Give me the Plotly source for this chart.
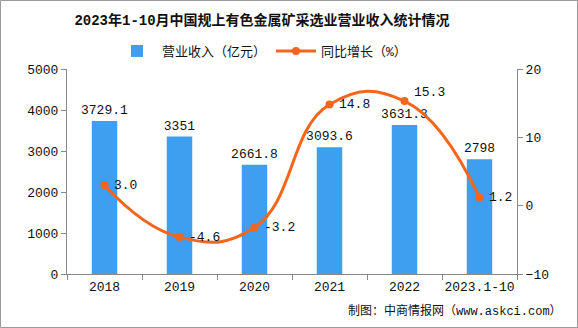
import plotly.graph_objects as go

categories = ["2018", "2019", "2020", "2021", "2022", "2023.1-10"]
revenue = [3729.1, 3351, 2661.8, 3093.6, 3631.3, 2798]
growth = [3.0, -4.6, -3.2, 14.8, 15.3, 1.2]
revenue_labels = ["3729.1", "3351", "2661.8", "3093.6", "3631.3", "2798"]
growth_labels = ["3.0", "-4.6", "-3.2", "14.8", "15.3", "1.2"]
growth_label_lift = [0, 0, 0, 0, 9, 0]

W, H = 578, 328
L, R, T, B = 67, 61, 69, 54
pw, ph = W - L - R, H - T - B

FONT = "Liberation Mono, Noto Sans CJK SC"
BAR = "#3e9ef0"
LINE = "#f5661c"

fig = go.Figure()
fig.add_trace(go.Bar(
    x=categories, y=revenue, name="营业收入（亿元）",
    marker=dict(color=BAR, line=dict(width=0)), width=0.34,
    text=revenue_labels, textposition="outside", cliponaxis=False,
    constraintext="none",
    textfont=dict(size=13, color="#111111", family=FONT),
))
fig.add_trace(go.Scatter(
    x=categories, y=growth, name="同比增长（%）", yaxis="y2",
    mode="lines+markers",
    line=dict(color=LINE, width=3, shape="spline", smoothing=1.3),
    marker=dict(color=LINE, size=8),
    cliponaxis=False,
))

annotations = []
for i, (v, t, lift) in enumerate(zip(growth, growth_labels, growth_label_lift)):
    annotations.append(dict(x=i, y=v, xref="x", yref="y2", text=t, showarrow=False,
                            xanchor="left", yanchor="middle", xshift=7, yshift=lift,
                            font=dict(size=13, family=FONT, color="#111111")))
annotations.append(dict(text="制图：中商情报网（www.askci.com）", xref="paper", yref="paper",
                        x=1 + (R - 14) / pw, y=-(B - 17) / ph, xanchor="right", yanchor="middle",
                        showarrow=False, font=dict(size=12, family=FONT, color="#111111")))

cx = (262 - L) / pw

fig.update_layout(
    width=W, height=H,
    margin=dict(l=L, r=R, t=T, b=B, autoexpand=False),
    paper_bgcolor="white", plot_bgcolor="white",
    font=dict(family=FONT, size=13, color="#111111"),
    title=dict(text="<b>2023年1-10月中国规上有色金属矿采选业营业收入统计情况</b>",
               xref="paper", x=cx, xanchor="center", y=1 - 20 / H, yanchor="middle",
               font=dict(size=14, family=FONT, color="#111111")),
    legend=dict(orientation="h", x=cx, xanchor="center", y=1 + 18 / ph, yanchor="middle",
                font=dict(size=13, family=FONT), bgcolor="rgba(0,0,0,0)",
                itemwidth=40, traceorder="normal"),
    showlegend=True,
    xaxis=dict(type="category", showline=True, linecolor="#888888", linewidth=1, ticks="outside",
               tickcolor="#888888", ticklen=5, tickson="boundaries", showgrid=False,
               tickangle=0, automargin=False,
               tickfont=dict(size=13, family=FONT)),
    yaxis=dict(range=[0, 5000], dtick=1000, showline=True, linecolor="#888888",
               linewidth=1, ticks="outside", tickcolor="#888888", ticklen=5,
               showgrid=False, zeroline=False, automargin=False,
               tickfont=dict(size=13, family=FONT)),
    yaxis2=dict(range=[-10, 20], dtick=10, overlaying="y", side="right",
                showline=True, linecolor="#888888", linewidth=1, ticks="outside",
                tickcolor="#888888", ticklen=5, showgrid=False, zeroline=False,
                automargin=False, tickfont=dict(size=13, family=FONT)),
    shapes=[dict(type="rect", xref="paper", yref="paper",
                 x0=-(L - 0.5) / pw, x1=1 + (R - 0.5) / pw,
                 y0=-(B - 0.5) / ph, y1=1 + (T - 0.5) / ph,
                 line=dict(color="#999999", width=1))],
    annotations=annotations,
)

fig.write_html("out.html")
